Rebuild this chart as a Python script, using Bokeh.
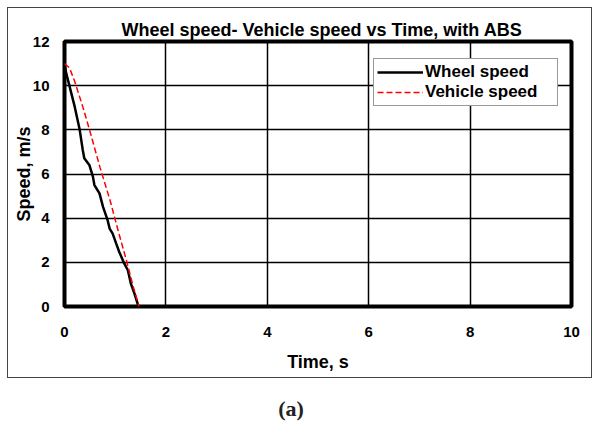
from bokeh.plotting import figure
from bokeh.models import Range1d, SingleIntervalTicker, Legend, LegendItem, Div
from bokeh.layouts import column
from bokeh.embed import file_html
from bokeh.resources import INLINE

# ---- data ----
wheel_t = [0.0, 0.03, 0.1, 0.2, 0.3, 0.36, 0.39, 0.49, 0.56, 0.59, 0.69, 0.76,
           0.85, 0.89, 0.95, 1.02, 1.08, 1.18, 1.25, 1.31, 1.38, 1.46]
wheel_v = [11.0, 10.6, 9.97, 9.06, 8.0, 7.09, 6.71, 6.41, 5.88, 5.5, 5.12, 4.51,
           3.91, 3.53, 3.30, 2.85, 2.47, 1.94, 1.64, 1.03, 0.58, 0.0]
vehicle_t = [0.0, 0.1, 0.2, 0.36, 0.5, 0.7, 0.9, 1.05, 1.22, 1.35, 1.47]
vehicle_v = [11.0, 10.8, 10.2, 9.05, 7.95, 6.3, 4.8, 3.5, 2.1, 0.95, 0.0]

title_text = "Wheel speed- Vehicle speed vs Time, with ABS"
x_label = "Time, s"
y_label = "Speed, m/s"
series_names = ["Wheel speed", "Vehicle speed"]
caption = "(a)"

FONT = "Liberation Sans"

p = figure(width=585, height=371, output_backend="svg", toolbar_location=None,
           x_range=Range1d(0, 10), y_range=Range1d(0, 12),
           min_border_left=56, min_border_right=22, min_border_top=33,
           min_border_bottom=73, background_fill_color="white",
           border_fill_color="white", margin=(7, 0, 0, 7),
           styles={"border": "1px solid #444"})

# title
p.title.text = title_text
p.title.text_font = FONT
p.title.text_font_style = "bold"
p.title.text_font_size = "18px"
p.title.text_color = "black"
p.title.align = "left"
p.title.offset = 57
p.title.standoff = 4

# frame outline
p.outline_line_color = "black"
p.outline_line_width = 4

# axes
for ax in (p.xaxis[0], p.yaxis[0]):
    ax.ticker = SingleIntervalTicker(interval=2)
    ax.axis_line_color = None
    ax.major_tick_line_color = None
    ax.minor_tick_line_color = None
    ax.major_tick_out = 0
    ax.major_tick_in = 0
    ax.major_label_text_font = FONT
    ax.major_label_text_font_style = "bold"
    ax.major_label_text_font_size = "15px"
    ax.major_label_text_color = "black"
    ax.axis_label_text_font = FONT
    ax.axis_label_text_font_style = "bold"
    ax.axis_label_text_font_size = "18px"
    ax.axis_label_text_color = "black"

p.xaxis[0].axis_label = x_label
p.yaxis[0].axis_label = y_label
p.xaxis[0].major_label_standoff = 16
p.xaxis[0].axis_label_standoff = 12
p.yaxis[0].major_label_standoff = 11
p.yaxis[0].axis_label_standoff = -4

# grid
p.xgrid.grid_line_color = "black"
p.ygrid.grid_line_color = "black"
p.xgrid.grid_line_width = 1.5
p.ygrid.grid_line_width = 1.5
p.xgrid.grid_line_alpha = 1.0
p.ygrid.grid_line_alpha = 1.0

# series
r_w = p.line(wheel_t, wheel_v, line_color="black", line_width=2.5)
r_v = p.line(vehicle_t, vehicle_v, line_color="red", line_width=1.5, line_dash="6 3")

legend = Legend(items=[LegendItem(label=series_names[0], renderers=[r_w]),
                       LegendItem(label=series_names[1], renderers=[r_v])],
                location=(309, 200), margin=0, padding=3, spacing=0,
                glyph_width=46, glyph_height=20, label_height=20, label_width=129,
                label_standoff=2, label_text_font=FONT,
                label_text_font_style="bold", label_text_font_size="17px",
                label_text_color="black",
                border_line_color="#333", border_line_width=1,
                background_fill_color="white", background_fill_alpha=1.0)
p.add_layout(legend, "center")

cap = Div(text='<span style="font-family: \'Liberation Serif\', serif; font-weight: bold; '
               'font-size: 22px; line-height: 22px; color: #222;">' + caption + '</span>',
          width=60, height=38, margin=(0, 0, 0, 261),
          styles={"padding-top": "20px", "text-align": "center"})

layout = column(p, cap, spacing=0)

open("out.html", "w").write(file_html(layout, INLINE))
